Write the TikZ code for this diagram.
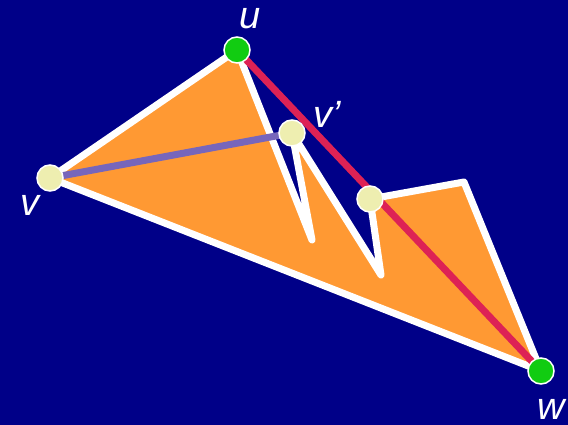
\documentclass[tikz,border=0pt]{standalone}
\usepackage{fontspec}
\setmainfont{Liberation Sans}
\definecolor{bg}{HTML}{000088}
\definecolor{fillor}{HTML}{FF9933}
\definecolor{redl}{HTML}{DD2255}
\definecolor{purl}{HTML}{7766BB}
\definecolor{greenpt}{HTML}{11CC11}
\definecolor{yelpt}{HTML}{EEEEB0}
\tikzset{
  poly/.style={fill=fillor, draw=white, line width=7pt, line join=round, line cap=round},
  seg/.style={line width=7pt},
  gpt/.style={circle, fill=greenpt, draw=white, line width=1.5pt, minimum size=26pt, inner sep=0pt},
  ypt/.style={circle, fill=yelpt, draw=white, line width=1.5pt, minimum size=26pt, inner sep=0pt},
  lab/.style={text=white, font=\fontsize{38}{38}\selectfont\itshape, inner sep=0pt}
}
\begin{document}
\begin{tikzpicture}[x=1pt,y=-1pt]
\fill[bg] (0,0) rectangle (568,425);
\useasboundingbox (0,0) rectangle (568,425);
\coordinate (v) at (50,178);
\coordinate (u) at (237,50);
\coordinate (a) at (312,240);
\coordinate (vp) at (292,133);
\coordinate (b) at (381,275);
\coordinate (c) at (370,199);
\coordinate (d) at (464,182);
\coordinate (w) at (541,371);
\draw[poly] (v) -- (u) -- (a) -- (vp) -- (b) -- (c) -- (d) -- (w) -- cycle;
\draw[seg, redl] (u) -- (w);
\draw[seg, purl] (v) -- (vp);
\node[gpt] (nu) at (u) {};
\node[gpt] (nw) at (w) {};
\node[ypt] (nv) at (v) {};
\node[ypt] (nvp) at (vp) {};
\node[ypt] (nc) at (c) {};
\node[lab] (lu) at (250,19) {u};
\node[lab] (lvp) at (327,114) {v’};
\node[lab] (lv) at (30,205) {v};
\node[lab] (lw) at (551,409) {w};
\end{tikzpicture}
\end{document}
